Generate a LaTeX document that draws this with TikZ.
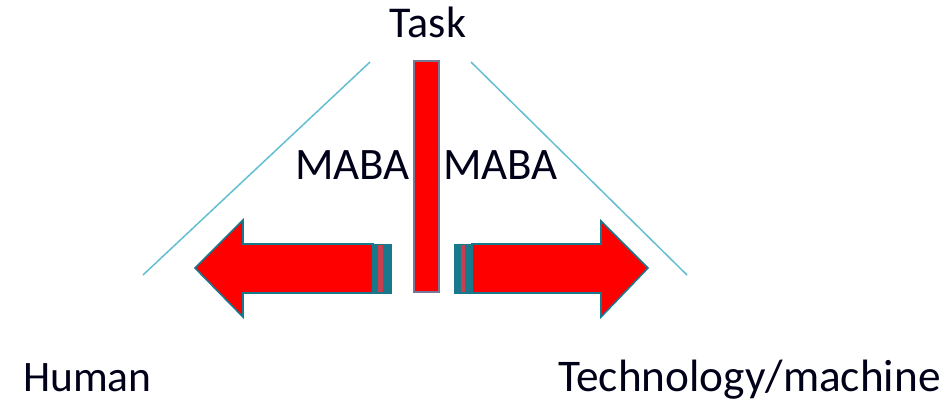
\documentclass[tikz,border=0pt]{standalone}
\usepackage{fontspec}
\setmainfont{Carlito}
\definecolor{arrred}{RGB}{255,0,0}
\definecolor{arredge}{RGB}{24,120,140}
\definecolor{stripe}{RGB}{200,64,80}
\definecolor{guide}{RGB}{100,190,210}
\definecolor{baredge}{RGB}{120,120,150}
\tikzset{
  lbl/.style={inner sep=0pt, text=black!90!blue},
  guideline/.style={draw=guide, line width=1.5pt},
  bigarrow/.style={fill=arrred, draw=arredge, line width=1.6pt, line join=miter},
  tailblock/.style={fill=arredge, draw=arredge, line width=0.8pt},
  tailstripe/.style={fill=stripe, draw=none},
}
\begin{document}
\begin{tikzpicture}[x=1pt,y=-1pt]
\useasboundingbox (0,0) rectangle (947,402);
% labels
\node[lbl, anchor=base, font=\fontsize{44}{48}\selectfont] (task) at (428,37) {Task};
\node[lbl, anchor=base west, font=\fontsize{45}{48}\selectfont] (mabal) at (295,179) {MABA};
\node[lbl, anchor=base west, font=\fontsize{45}{48}\selectfont] (mabar) at (443,179) {MABA};
\node[lbl, anchor=base west, font=\fontsize{43.5}{48}\selectfont] (human) at (23,391) {Human};
\node[lbl, anchor=base west, font=\fontsize{45.3}{48}\selectfont] (tech) at (558,391) {Technology/machine};
% guide lines
\coordinate (lt) at (370,62);
\coordinate (lb) at (143,275);
\coordinate (rt) at (471,62);
\coordinate (rb) at (687,275);
\draw[guideline] (lt) -- (lb);
\draw[guideline] (rt) -- (rb);
% vertical bar
\draw[fill=arrred, draw=baredge, line width=1.6pt] (414,61) rectangle (439,292);
% left arrow
\draw[bigarrow] (373,244) -- (243,244) -- (243,220) -- (195,268) -- (243,317) -- (243,293) -- (373,293) -- cycle;
\draw[tailblock] (373,244) rectangle (391,293);
\fill[tailstripe] (377.5,245) rectangle (382.5,292);
% right arrow
\draw[bigarrow] (472,244) -- (601,244) -- (601,221) -- (648,268) -- (601,317) -- (601,293) -- (472,293) -- cycle;
\draw[tailblock] (454,244) rectangle (472,293);
\fill[tailstripe] (460.5,245) rectangle (465,292);
\end{tikzpicture}
\end{document}
